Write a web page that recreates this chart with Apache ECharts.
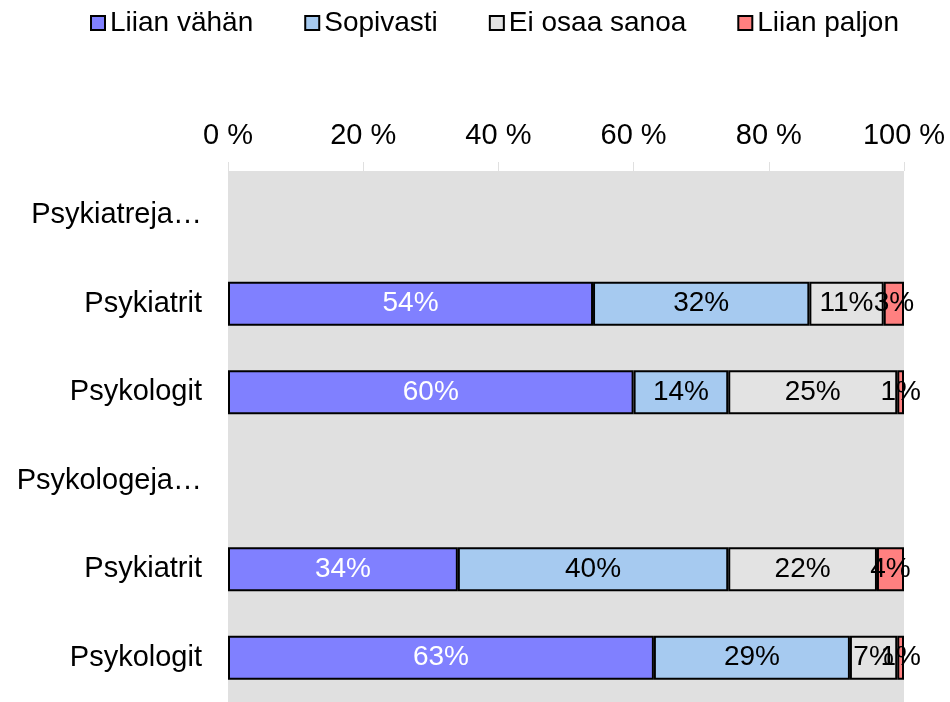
<!DOCTYPE html>
<html>
<head>
<meta charset="utf-8">
<script src="https://cdn.jsdelivr.net/npm/echarts@6/dist/echarts.min.js"></script>
<style>
  html, body { margin: 0; padding: 0; background: #fff; }
  #chart { width: 950px; height: 702px; }
</style>
</head>
<body>
<div id="chart"></div>
<script>
// categories top to bottom (empty rows are group headers)
const categories = ['Psykiatreja\u2026', 'Psykiatrit', 'Psykologit', 'Psykologeja\u2026', 'Psykiatrit', 'Psykologit'];
const seriesNames = ['Liian vähän', 'Sopivasti', 'Ei osaa sanoa', 'Liian paljon'];
const liianVahan   = ['-', 54, 60, '-', 34, 63];
const sopivasti    = ['-', 32, 14, '-', 40, 29];
const eiOsaaSanoa  = ['-', 11, 25, '-', 22, 7];
const liianPaljon  = ['-', 3, 1, '-', 4, 1];
const xTicks = [0, 20, 40, 60, 80, 100];

const colors = ['#8080FF', '#A6CAF0', '#E3E3E3', '#FF8080'];
const labelColors = ['#ffffff', '#000000', '#000000', '#000000'];
const values = [liianVahan, sopivasti, eiOsaaSanoa, liianPaljon];
const FONT = 'Liberation Sans, Arial, sans-serif';

const chart = echarts.init(document.getElementById('chart'));

const series = seriesNames.map(function (name, i) {
    return {
        name: name,
        type: 'bar',
        stack: 'total',
        barWidth: 44,
        data: values[i],
        itemStyle: { color: colors[i], borderColor: '#000', borderWidth: 2 },
        label: {
            show: true,
            position: 'inside',
            formatter: '{c}%',
            color: labelColors[i],
            fontSize: 28,
            fontFamily: FONT
        },
        emphasis: { disabled: true }
    };
});

const option = {
    animation: false,
    legend: {
        data: seriesNames,
        left: 85,
        top: 4,
        icon: 'rect',
        itemWidth: 14,
        itemHeight: 14,
        itemGap: 51,
        itemStyle: { borderColor: '#000', borderWidth: 2 },
        textStyle: { fontSize: 28, color: '#000', fontFamily: FONT }
    },
    grid: {
        left: 228,
        right: 46,
        top: 171,
        height: 534,
        show: true,
        backgroundColor: '#E0E0E0',
        borderWidth: 0
    },
    xAxis: {
        type: 'value',
        position: 'top',
        min: xTicks[0],
        max: xTicks[xTicks.length - 1],
        interval: 20,
        axisLine: { show: false },
        axisTick: { show: true, length: 9, lineStyle: { color: '#E0E0E0', width: 1 } },
        splitLine: { show: false },
        axisLabel: {
            formatter: '{value} %',
            fontSize: 29,
            color: '#000',
            fontFamily: FONT,
            margin: 21
        }
    },
    yAxis: {
        type: 'category',
        data: categories,
        inverse: true,
        axisLine: { show: false },
        axisTick: { show: false },
        axisLabel: {
            fontSize: 29,
            color: '#000',
            fontFamily: FONT,
            margin: 26
        }
    },
    series: series
};

chart.setOption(option);
</script>
</body>
</html>
